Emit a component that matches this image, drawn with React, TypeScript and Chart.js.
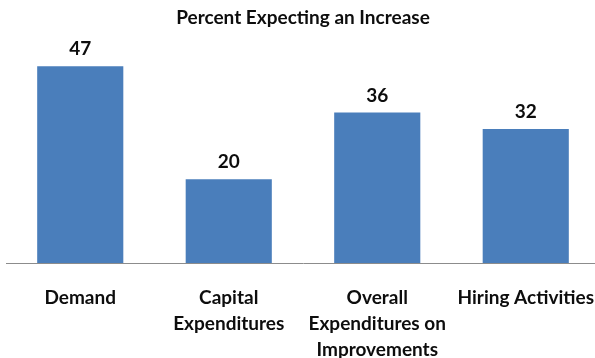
import React, { useEffect, useRef } from "react";
import { Chart, registerables } from "chart.js";

Chart.register(...registerables);

const categories: (string | string[])[] = [
  "Demand",
  ["Capital", "Expenditures"],
  ["Overall", "Expenditures on", "Improvements"],
  "Hiring Activities",
];
const values: number[] = [47, 20, 36, 32];
const titleText = "Percent Expecting an Increase";

const FONT = "Lato, 'Open Sans', sans-serif";

const valueLabelPlugin = {
  id: "valueLabels",
  afterDatasetsDraw(chart: any) {
    const ctx = chart.ctx;
    const meta = chart.getDatasetMeta(0);
    ctx.save();
    ctx.font = `bold 19px ${FONT}`;
    ctx.fillStyle = "#0d0d0d";
    ctx.textAlign = "center";
    ctx.textBaseline = "middle";
    meta.data.forEach((bar: any, i: number) => {
      ctx.fillText(String(values[i]), bar.x, bar.y - 17);
    });
    ctx.restore();
  },
};

export default function App() {
  const ref = useRef<HTMLCanvasElement>(null);
  useEffect(() => {
    if (!ref.current) return;
    const chart = new Chart(ref.current, {
      type: "bar",
      data: {
        labels: categories,
        datasets: [
          {
            data: values,
            backgroundColor: "#4A7EBB",
            barPercentage: 0.58,
            categoryPercentage: 1,
          },
        ],
      },
      options: {
        animation: false,
        responsive: false,
        maintainAspectRatio: false,
        layout: { padding: { left: 6, right: 0, top: 0, bottom: 0 } },
        plugins: {
          legend: { display: false },
          tooltip: { enabled: false },
          title: {
            display: true,
            text: titleText,
            color: "#0d0d0d",
            font: { family: FONT, size: 19, weight: "bold" },
            padding: { top: 6, bottom: 25 },
          },
        },
        scales: {
          x: {
            grid: { display: false, drawTicks: false },
            border: { display: true, color: "#8c8c8c", width: 1 },
            ticks: {
              color: "#0d0d0d",
              font: { family: FONT, size: 19, weight: "bold", lineHeight: 1.36 },
              padding: 22,
              maxRotation: 0,
              autoSkip: false,
            },
            afterFit: (scale: any) => {
              scale.height = 99;
              scale.paddingLeft = 0;
              scale.paddingRight = 0;
            },
          },
          y: {
            display: false,
            min: 0,
            max: 50,
          },
        },
      },
      plugins: [valueLabelPlugin],
    });
    return () => chart.destroy();
  }, []);
  return (
    <div
      style={{
        position: "fixed",
        left: 0,
        top: 0,
        width: 595,
        height: 358,
        overflow: "hidden",
        background: "#fff",
      }}
    >
      <canvas ref={ref} width={600} height={362} style={{ display: "block" }} />
    </div>
  );
}
